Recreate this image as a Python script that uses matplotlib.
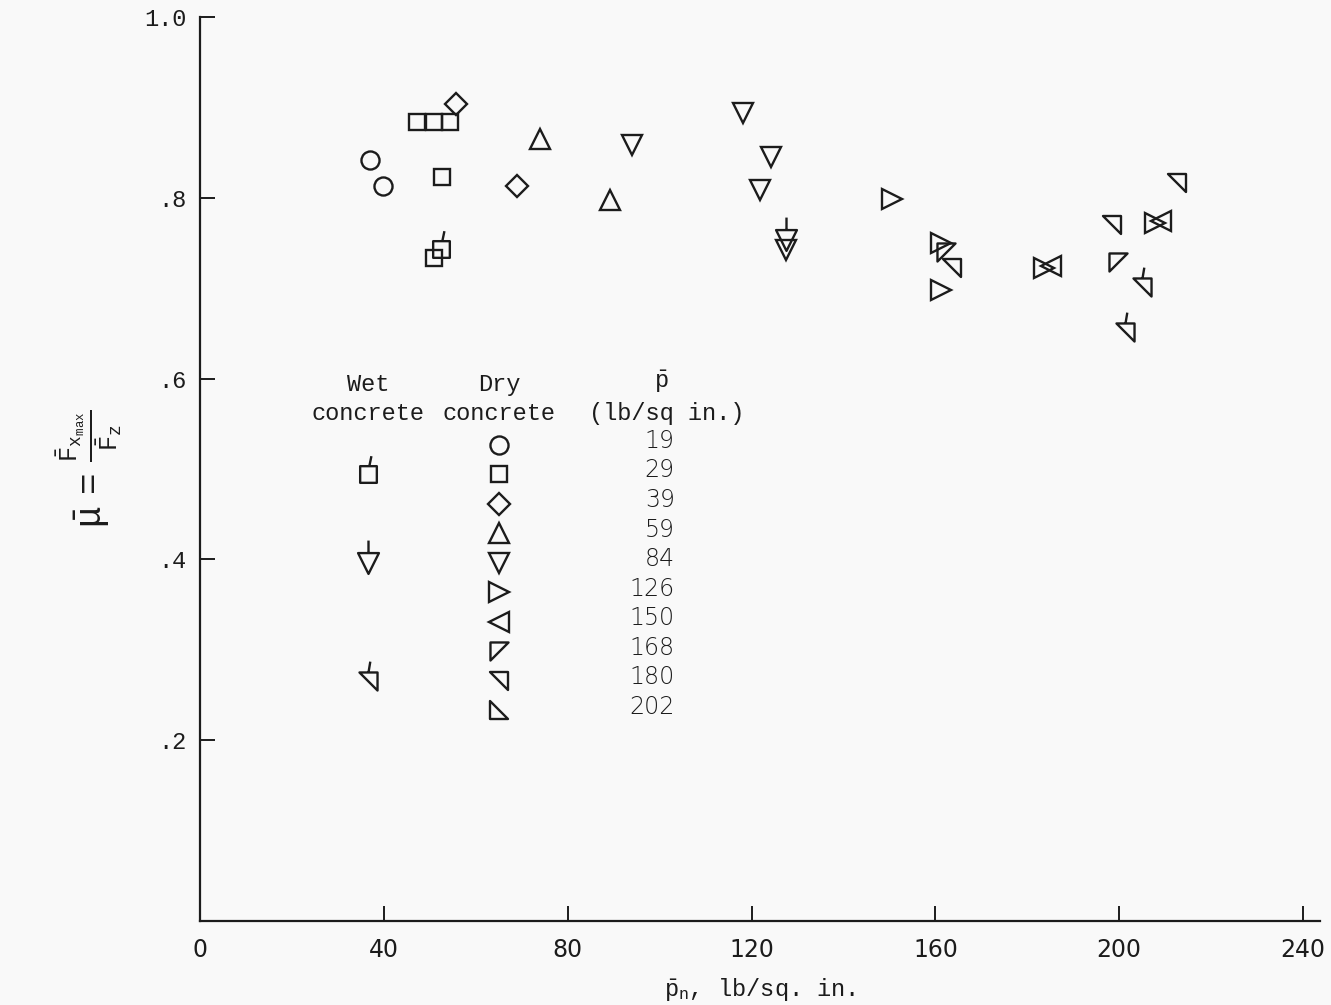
import numpy as np
import matplotlib
matplotlib.use("Agg")
import matplotlib.pyplot as plt
from matplotlib.path import Path

plt.rcParams['font.family'] = ['Liberation Mono', 'DejaVu Sans Mono']
plt.rcParams['mathtext.fontset'] = 'custom'
plt.rcParams['mathtext.rm'] = 'Liberation Mono'
plt.rcParams['mathtext.it'] = 'Liberation Mono'
plt.rcParams['mathtext.bf'] = 'Liberation Mono'

# mean ground pressure groups, lb/sq in.
pressures = ["19", "29", "39", "59", "84", "126", "150", "168", "180", "202"]

# dry concrete points (p_n, mu)
dry_19_x = [37.0, 39.8]
dry_19_y = [0.842, 0.813]
dry_29_x = [47.2, 50.9, 54.4, 52.7, 50.9]
dry_29_y = [0.884, 0.884, 0.884, 0.823, 0.733]
dry_39_x = [55.7, 69.0]
dry_39_y = [0.904, 0.813]
dry_59_x = [74.0, 89.2]
dry_59_y = [0.865, 0.798]
dry_84_x = [94.0, 118.1, 124.2, 121.8, 127.5]
dry_84_y = [0.858, 0.894, 0.845, 0.809, 0.742]
dry_126_x = [150.6, 161.2, 161.2, 183.6, 207.8]
dry_126_y = [0.799, 0.750, 0.698, 0.722, 0.772]
dry_150_x = [185.2, 209.0]
dry_150_y = [0.724, 0.774]
dry_168_x = [162.2, 199.7]
dry_168_y = [0.740, 0.729]
dry_180_x = [163.6, 198.4, 212.6]
dry_180_y = [0.722, 0.770, 0.816]
dry_202_x = []
dry_202_y = []

# wet concrete points
wet_29_x = [52.4]
wet_29_y = [0.743]
wet_84_x = [127.5]
wet_84_y = [0.753]
wet_180_x = [205.0, 201.3]
wet_180_y = [0.701, 0.652]


def shape(verts, flag=None):
    v = list(verts) + [verts[0]]
    codes = [Path.MOVETO] + [Path.LINETO] * (len(verts) - 1) + [Path.CLOSEPOLY]
    if flag is not None:
        v += flag
        codes += [Path.MOVETO, Path.LINETO]
    return Path(v, codes)


sq = [(-1, -1), (1, -1), (1, 1), (-1, 1)]
tdown = [(-1, 1), (1, 1), (0, -1)]
t168 = [(-1, 1), (1, 1), (-1, -1)]
t180 = [(-1, 1), (1, 1), (1, -1)]
t202 = [(-1, 1), (-1, -1), (1, -1)]

m168 = shape(t168)
m180 = shape(t180)
m202 = shape(t202)
# wet markers carry a short flag; flag reaches y=2.2 so the marker is scaled 2.2x
FL = 2.2
w29 = shape(sq, [(0.1, 1), (0.35, FL)])
w84 = shape(tdown, [(0, 1), (0, FL)])
w180 = shape(t180, [(0.0, 1), (0.2, FL)])

ink = '#1c1c1c'
bg = '#f9f9f9'

fig = plt.figure(figsize=(13.31, 10.05), dpi=100, facecolor=bg)
ax = fig.add_axes([0.1503, 0.0836, 0.8415, 0.8995], facecolor=bg)

kw = dict(ls='none', mfc='none', mec=ink, mew=1.7, clip_on=False)

series = [
    (dry_19_x, dry_19_y, 'o', 13),
    (dry_29_x, dry_29_y, 's', 12),
    (dry_39_x, dry_39_y, 'D', 11),
    (dry_59_x, dry_59_y, '^', 15),
    (dry_84_x, dry_84_y, 'v', 15),
    (dry_126_x, dry_126_y, '>', 15),
    (dry_150_x, dry_150_y, '<', 15),
    (dry_168_x, dry_168_y, m168, 13),
    (dry_180_x, dry_180_y, m180, 13),
    (dry_202_x, dry_202_y, m202, 13),
]
for x, y, m, s in series:
    ax.plot(x, y, marker=m, ms=s, **kw)

wet = [
    (wet_29_x, wet_29_y, w29, 12),
    (wet_84_x, wet_84_y, w84, 15),
    (wet_180_x, wet_180_y, w180, 13),
]
for x, y, m, s in wet:
    ax.plot(x, y, marker=m, ms=s * FL, **kw)

# key table drawn inside the axes
col_wet, col_dry, col_p = 36.6, 65.1, 103.3
rows = np.linspace(0.527, 0.233, len(pressures))
ax.text(col_wet, 0.594, 'Wet', ha='center', va='center', fontsize=17, color=ink)
ax.text(col_wet, 0.561, 'concrete', ha='center', va='center', fontsize=17, color=ink)
ax.text(col_dry, 0.594, 'Dry', ha='center', va='center', fontsize=17, color=ink)
ax.text(col_dry, 0.561, 'concrete', ha='center', va='center', fontsize=17, color=ink)
ax.text(100.3, 0.597, r'$\bar{\mathrm{p}}$', ha='center', va='center', fontsize=17, color=ink)
ax.text(101.5, 0.561, '(lb/sq in.)', ha='center', va='center', fontsize=17, color=ink)

for r, (x, y, m, s), lab in zip(rows, series, pressures):
    ax.plot([col_dry], [r], marker=m, ms=s, **kw)
    ax.text(col_p, r + 0.004, lab, ha='right', va='center', fontsize=17, color=ink,
            family='DejaVu Sans', fontweight='light')
wet_rows = {1: wet[0], 4: wet[1], 8: wet[2]}
for i, (x, y, m, s) in wet_rows.items():
    ax.plot([col_wet], [rows[i]], marker=m, ms=s * FL, **kw)

ax.set_xlim(0, 243.7)
ax.set_ylim(0, 1.0)
ax.set_xticks([0, 40, 80, 120, 160, 200, 240])
ax.set_xticklabels(['0', '40', '80', '120', '160', '200', '240'], family='DejaVu Sans')
ax.set_yticks([0.2, 0.4, 0.6, 0.8, 1.0])
ax.set_yticklabels(['.2', '.4', '.6', '.8', '1.0'])
ax.tick_params(direction='in', length=11, width=1.4, colors=ink, labelsize=17, pad=10)
ax.tick_params(axis='x', pad=12)
for s in ['top', 'right']:
    ax.spines[s].set_visible(False)
for s in ['left', 'bottom']:
    ax.spines[s].set_linewidth(1.6)
    ax.spines[s].set_color(ink)

ax.set_xlabel(r'$\bar{\mathrm{p}}_\mathrm{n}$, lb/sq. in.', fontsize=17, color=ink, labelpad=10)
ax.set_ylabel(r'$\bar{\mu}\ =\ \frac{\bar{\mathrm{F}}_{\mathrm{x}_{\mathrm{max}}}}{\bar{\mathrm{F}}_\mathrm{z}}$',
              fontsize=26, color=ink, labelpad=14)

fig.savefig('out.png', dpi=100, facecolor=bg)
